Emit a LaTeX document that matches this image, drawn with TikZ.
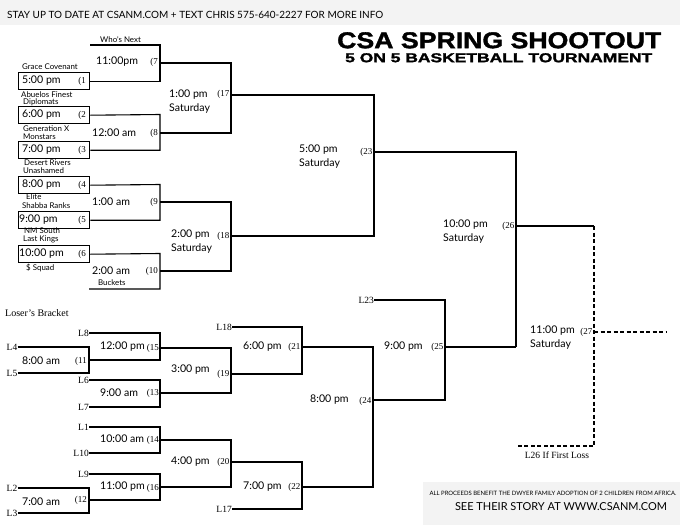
\documentclass[tikz,border=0pt]{standalone}
\usepackage{fontspec}
\usepackage{graphicx}
\setmainfont{Liberation Serif}
\newfontfamily\av{Lato}
\newfontfamily\titlefont[FakeBold=1.5]{Liberation Sans}
\definecolor{bandgray}{HTML}{F3F3F3}
\tikzset{
  ln/.style={line width=1.1pt, line join=miter},
  dln/.style={line width=1.1pt, dashed, dash pattern=on 4pt off 2.5pt},
  boxn/.style={draw, line width=1.4pt, minimum width=71pt, minimum height=17pt, anchor=north west, inner sep=0pt},
  tm/.style={font=\av\fontsize{10.6}{12}\selectfont, anchor=west, inner sep=0pt},
  nm/.style={font=\av\fontsize{7.9}{8}\selectfont, anchor=west, inner sep=0pt},
  mn/.style={font=\fontsize{9}{10}\selectfont, anchor=east, inner sep=0pt},
  lb/.style={font=\fontsize{9.5}{10}\selectfont, anchor=east, inner sep=0pt}
}
\begin{document}
\begin{tikzpicture}[x=1pt,y=-1pt]
\useasboundingbox (0,0) rectangle (680,525);
\fill[bandgray] (0,0) rectangle (680,25);
\fill[bandgray] (423,482) rectangle (680,525);

% header and title
\node[anchor=west, inner sep=0pt] (hdr) at (7,15) {\resizebox{376pt}{!}{\av STAY UP TO DATE AT CSANM.COM + TEXT CHRIS 575-640-2227 FOR MORE INFO}};
\node[anchor=north west, inner sep=0pt] (title) at (337,32) {\resizebox{324pt}{16pt}{\titlefont\bfseries CSA SPRING SHOOTOUT}};
\node[anchor=north west, inner sep=0pt] (subtitle) at (345,53) {\resizebox{307pt}{9pt}{\titlefont\bfseries 5 ON 5 BASKETBALL TOURNAMENT}};

% ---------- winners bracket boxes ----------
\node[boxn] (b1) at (18,72) {};
\node[boxn] (b2) at (18,106) {};
\node[boxn] (b3) at (18,141) {};
\node[boxn] (b4) at (18,176) {};
\node[boxn] (b5) at (18,211) {};
\node[boxn] (b6) at (18,245) {};

\node[tm] (t1) at (22,81) {5:00 pm};   \node[mn] (n1) at (86,81) {(1};
\node[tm] (t2) at (22,115) {6:00 pm};  \node[mn] (n2) at (86,115) {(2};
\node[tm] (t3) at (22,150) {7:00 pm};  \node[mn] (n3) at (86,150) {(3};
\node[tm] (t4) at (22,185) {8:00 pm};  \node[mn] (n4) at (86,185) {(4};
\node[tm] (t5) at (19,220) {9:00 pm};  \node[mn] (n5) at (86,220) {(5};
\node[tm] (t6) at (19,254) {10:00 pm}; \node[mn] (n6) at (86,254) {(6};

\node[nm] (g1) at (22,67) {Grace Covenant};
\node[nm] (g2a) at (21,95) {Abuelos Finest};
\node[nm] (g2b) at (23,102.5) {Diplomats};
\node[nm] (g3a) at (23,129) {Generation X};
\node[nm] (g3b) at (23,137) {Monstars};
\node[nm] (g4a) at (24,163) {Desert Rivers};
\node[nm] (g4b) at (23,171) {Unashamed};
\node[nm] (g5a) at (26,197) {Elite};
\node[nm] (g5b) at (22,205.5) {Shabba Ranks};
\node[nm] (g6a) at (24,231) {NM South};
\node[nm] (g6b) at (23,239.5) {Last Kings};
\node[nm] (g6c) at (26,268) {\$ Squad};
\node[nm] (who) at (100,40) {Who's Next};
\node[nm] (buck) at (98,283) {Buckets};

\node[tm] (t7) at (96,62) {11:00pm};   \node[mn] (n7) at (158,62) {(7};
\node[tm] (t8) at (92,133) {12:00 am}; \node[mn] (n8) at (158,133) {(8};
\node[tm] (t9) at (92,202) {1:00 am};  \node[mn] (n9) at (158,202) {(9};
\node[tm] (t10) at (92,271) {2:00 am}; \node[mn] (n10) at (158,271) {(10};

\node[tm] (t17) at (169,95) {1:00 pm};   \node[tm] (s17) at (169,108.5) {Saturday}; \node[mn] (n17) at (229.5,94) {(17};
\node[tm] (t18) at (171,235) {2:00 pm};  \node[tm] (s18) at (171,249) {Saturday};  \node[mn] (n18) at (229.5,236) {(18};
\node[tm] (t23) at (299,150) {5:00 pm};  \node[tm] (s23) at (299,164) {Saturday};  \node[mn] (n23) at (372.5,152) {(23};
\node[tm] (t26) at (443,225) {10:00 pm}; \node[tm] (s26) at (443,239) {Saturday};  \node[mn] (n26) at (514.5,226) {(26};
\node[tm] (t27) at (530,331) {11:00 pm}; \node[tm] (s27) at (530,345) {Saturday};  \node[mn] (n27) at (592.5,332) {(27};
\node[font=\fontsize{9.5}{10}\selectfont, inner sep=0pt] (l26) at (557,455) {L26 If First Loss};

% winners coordinates
\coordinate (whoL) at (90,45);
\coordinate (bucL) at (89,289);
\coordinate (v7t) at (160,45);   \coordinate (v7o) at (160,63);
\coordinate (v8t) at (160,114.5); \coordinate (v8o) at (160,133);
\coordinate (v9t) at (160,184.5); \coordinate (v9o) at (160,202);
\coordinate (v10t) at (160,253.5); \coordinate (v10o) at (160,271);
\coordinate (v17t) at (231,63);  \coordinate (v17b) at (231,133); \coordinate (v17o) at (231,95);
\coordinate (v18t) at (231,202); \coordinate (v18b) at (231,271); \coordinate (v18o) at (231,236);
\coordinate (v23t) at (374,95);  \coordinate (v23b) at (374,236); \coordinate (v23o) at (374,152);
\coordinate (v26t) at (516,152); \coordinate (v26b) at (516,347); \coordinate (v26o) at (516,226);
\coordinate (v27t) at (594,226); \coordinate (v27b) at (594,446); \coordinate (v27o) at (594,332);
\coordinate (v27L) at (517,446); \coordinate (v27R) at (666,332);

\draw[ln] (whoL) -- (v7t) |- (b1.east);
\draw[ln] (b2.east) -- (v8t) |- (b3.east);
\draw[ln] (b4.east) -- (v9t) |- (b5.east);
\draw[ln] (b6.east) -- (v10t) |- (bucL);
\draw[ln] (v7o) -- (v17t) -- (v17b) -- (v8o);
\draw[ln] (v9o) -- (v18t) -- (v18b) -- (v10o);
\draw[ln] (v17o) -- (v23t) -- (v23b) -- (v18o);
\draw[ln] (v23o) -- (v26t) -- (v26b);
\draw[ln] (v26o) -- (v27t);
\draw[dln] (v27t) -- (v27b) -- (v27L);
\draw[dln] (v27o) -- (v27R);

% ---------- losers bracket ----------
\node[anchor=west, inner sep=0pt, font=\fontsize{10}{11}\selectfont] (lbt) at (5,313) {Loser's Bracket};

\node[lb] (L8) at (89,333) {L8};
\node[lb] (L4) at (17.5,347) {L4};
\node[lb] (L5) at (17.5,373) {L5};
\node[lb] (L6) at (89,380) {L6};
\node[lb] (L7) at (89,407) {L7};
\node[lb] (L18) at (232,327) {L18};
\node[lb] (L23) at (374,300) {L23};
\node[lb] (L1) at (89,427) {L1};
\node[lb] (L10) at (89,453) {L10};
\node[lb] (L9) at (89,474) {L9};
\node[lb] (L2) at (17.5,488) {L2};
\node[lb] (L3) at (17.5,513) {L3};
\node[lb] (L17) at (232,509) {L17};

\node[tm] (t15) at (100,347) {12:00 pm}; \node[mn] (n15) at (159,348) {(15};
\node[tm] (t11) at (22,361) {8:00 am};   \node[mn] (n11) at (87,361) {(11};
\node[tm] (t13) at (100,393) {9:00 am};  \node[mn] (n13) at (159,393) {(13};
\node[tm] (t19) at (171,370) {3:00 pm};  \node[mn] (n19) at (229.5,374) {(19};
\node[tm] (t21) at (243,347) {6:00 pm};  \node[mn] (n21) at (300.5,347) {(21};
\node[tm] (t24) at (310,400) {8:00 pm};  \node[mn] (n24) at (371.5,401) {(24};
\node[tm] (t25) at (384,347) {9:00 pm};  \node[mn] (n25) at (443.5,347) {(25};
\node[tm] (t14) at (100,439) {10:00 am}; \node[mn] (n14) at (159,440) {(14};
\node[tm] (t16) at (100,487) {11:00 pm}; \node[mn] (n16) at (159,488) {(16};
\node[tm] (t12) at (22,502) {7:00 am};   \node[mn] (n12) at (87,500) {(12};
\node[tm] (t20) at (171,462) {4:00 pm};  \node[mn] (n20) at (229.5,462) {(20};
\node[tm] (t22) at (243,487) {7:00 pm};  \node[mn] (n22) at (300.5,487) {(22};

\coordinate (v11t) at (89,347);  \coordinate (v11b) at (89,373);  \coordinate (v11o) at (89,360);
\coordinate (v15t) at (160,333); \coordinate (v15b) at (160,360); \coordinate (v15o) at (160,348);
\coordinate (v13t) at (160,380); \coordinate (v13b) at (160,407); \coordinate (v13o) at (160,393);
\coordinate (v19t) at (231,348); \coordinate (v19b) at (231,393); \coordinate (v19o) at (231,374);
\coordinate (v21t) at (302,327); \coordinate (v21b) at (302,374); \coordinate (v21o) at (302,347);
\coordinate (v14t) at (160,427); \coordinate (v14b) at (160,453); \coordinate (v14o) at (160,440);
\coordinate (v12t) at (89,488);  \coordinate (v12b) at (89,513);  \coordinate (v12o) at (89,500);
\coordinate (v16t) at (160,474); \coordinate (v16b) at (160,500); \coordinate (v16o) at (160,487);
\coordinate (v20t) at (231,440); \coordinate (v20b) at (231,487); \coordinate (v20o) at (231,462);
\coordinate (v22t) at (302,462); \coordinate (v22b) at (302,509); \coordinate (v22o) at (302,487);
\coordinate (v24t) at (373,347); \coordinate (v24b) at (373,487); \coordinate (v24o) at (373,400);
\coordinate (v25t) at (445,300); \coordinate (v25b) at (445,400); \coordinate (v25o) at (445,347);

\draw[ln] (L4.east) -- (v11t) -- (v11b) -- (L5.east);
\draw[ln] (L8.east) -- (v15t) -- (v15b) -- (v11o);
\draw[ln] (L6.east) -- (v13t) -- (v13b) -- (L7.east);
\draw[ln] (v15o) -- (v19t) -- (v19b) -- (v13o);
\draw[ln] (L18.east) -- (v21t) -- (v21b) -- (v19o);
\draw[ln] (L1.east) -- (v14t) -- (v14b) -- (L10.east);
\draw[ln] (L2.east) -- (v12t) -- (v12b) -- (L3.east);
\draw[ln] (L9.east) -- (v16t) -- (v16b) -- (v12o);
\draw[ln] (v14o) -- (v20t) -- (v20b) -- (v16o);
\draw[ln] (v20o) -- (v22t) -- (v22b) -- (L17.east);
\draw[ln] (v21o) -- (v24t) -- (v24b) -- (v22o);
\draw[ln] (L23.east) -- (v25t) -- (v25b) -- (v24o);
\draw[ln] (v25o) -- (v26b);

% footer
\node[inner sep=0pt] (ft1) at (553,493) {\resizebox{247pt}{!}{\av ALL PROCEEDS BENEFIT THE DWYER FAMILY ADOPTION OF 2 CHILDREN FROM AFRICA.}};
\node[inner sep=0pt] (ft2) at (561,507) {\resizebox{212pt}{!}{\av SEE THEIR STORY AT WWW.CSANM.COM}};
\end{tikzpicture}
\end{document}
